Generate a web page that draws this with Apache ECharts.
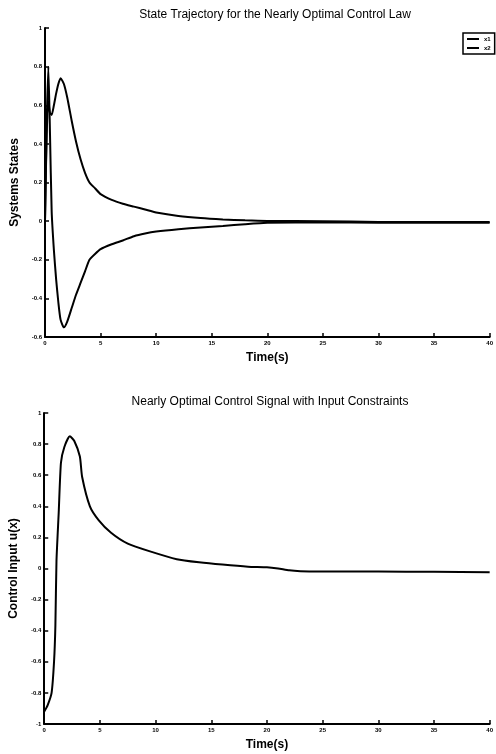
<!DOCTYPE html>
<html>
<head>
<meta charset="utf-8">
<script src="https://cdn.jsdelivr.net/npm/echarts@6/dist/echarts.min.js"></script>
<style>
html,body{margin:0;padding:0;background:#fff;}
#c{width:496px;height:754px;}
</style>
</head>
<body>
<div id="c"></div>
<script>
// ---- Data ----
const stateTime = [0,0.15,0.3,0.45,0.6,0.8,1.0,1.2,1.4,1.7,2.0,2.4,2.8,3.2,3.6,4.0,4.5,5,6,7,8,9,10,12,14,16,18,20,25,30,35,40];
const x1Values = [0,0.45,0.62,0.56,0.55,0.6,0.66,0.71,0.74,0.71,0.64,0.52,0.41,0.32,0.25,0.2,0.17,0.14,0.11,0.09,0.075,0.06,0.045,0.027,0.016,0.009,0.004,0.001,0,-0.004,-0.005,-0.005];
const x2Values = [0,0.5,0.8,0.45,0.05,-0.15,-0.3,-0.42,-0.51,-0.55,-0.52,-0.45,-0.38,-0.32,-0.26,-0.2,-0.17,-0.145,-0.12,-0.1,-0.078,-0.064,-0.054,-0.042,-0.033,-0.025,-0.016,-0.009,-0.006,-0.008,-0.009,-0.008];

const controlTime = [0,0.3,0.66,0.88,1.0,1.1,1.3,1.5,1.8,2.3,2.7,3.2,3.4,4.1,4.9,6.0,7.5,9.5,11.9,13.9,16,18.3,20,21,22,23,25,30,35,40];
const uValues = [-0.92,-0.88,-0.8,-0.6,-0.37,0.05,0.36,0.68,0.78,0.85,0.82,0.72,0.59,0.40,0.31,0.23,0.16,0.11,0.06,0.04,0.025,0.012,0.008,0.0,-0.012,-0.017,-0.019,-0.02,-0.021,-0.024];

const seriesNames = ['x1','x2'];
const titles = ['State Trajectory for the Nearly Optimal Control Law','Nearly Optimal Control Signal with Input Constraints'];
const xAxisName = 'Time(s)';
const yAxisNames = ['Systems States','Control Input u(x)'];

const pair = (t, v) => t.map((ti, i) => [ti, v[i]]);

const FONT = '"Liberation Sans", Arial, sans-serif';
const axisCommon = {
  axisLine: {show: true, onZero: false, lineStyle: {color: '#000', width: 2}},
  axisTick: {show: true, inside: true, length: 4, lineStyle: {color: '#000', width: 1.5}},
  splitLine: {show: false},
  nameTextStyle: {fontFamily: FONT, fontSize: 12, fontWeight: 'bold', color: '#000'},
  axisLabel: {fontFamily: FONT, fontSize: 6, fontWeight: 'bold', color: '#000', margin: 3}
};
const lineStyle = {color: '#000', width: 2};

const chart = echarts.init(document.getElementById('c'), null, {renderer: 'canvas'});
chart.setOption({
  animation: false,
  backgroundColor: '#fff',
  title: [
    {text: titles[0], left: 275, top: 9, textAlign: 'center', padding: 0,
     textStyle: {fontFamily: FONT, fontSize: 12, fontWeight: 'normal', color: '#000'}},
    {text: titles[1], left: 270, top: 396, textAlign: 'center', padding: 0,
     textStyle: {fontFamily: FONT, fontSize: 12, fontWeight: 'normal', color: '#000'}}
  ],
  legend: {
    data: seriesNames, orient: 'vertical', left: 463, top: 33,
    padding: [3, 4, 3, 3], itemGap: 3, itemWidth: 12, itemHeight: 2,
    borderColor: '#000', borderWidth: 1.5,
    textStyle: {fontFamily: FONT, fontSize: 6, fontWeight: 'bold', color: '#000'}
  },
  grid: [
    {left: 45, right: 3, top: 28, height: 309},
    {left: 37, right: 4, top: 413, height: 311}
  ],
  xAxis: [
    Object.assign({}, axisCommon, {type: 'value', gridIndex: 0, min: 0, max: 40, interval: 5,
      name: xAxisName, nameLocation: 'middle', nameGap: 15}),
    Object.assign({}, axisCommon, {type: 'value', gridIndex: 1, min: 0, max: 40, interval: 5,
      name: xAxisName, nameLocation: 'middle', nameGap: 15})
  ],
  yAxis: [
    Object.assign({}, axisCommon, {type: 'value', gridIndex: 0, min: -0.6, max: 1, interval: 0.2,
      name: yAxisNames[0], nameLocation: 'middle', nameGap: 18,
      axisLabel: Object.assign({}, axisCommon.axisLabel, {formatter: v => String(+v.toFixed(1))})}),
    Object.assign({}, axisCommon, {type: 'value', gridIndex: 1, min: -1, max: 1, interval: 0.2,
      name: yAxisNames[1], nameLocation: 'middle', nameGap: 13,
      axisLabel: Object.assign({}, axisCommon.axisLabel, {formatter: v => String(+v.toFixed(1))})})
  ],
  series: [
    {name: seriesNames[0], type: 'line', xAxisIndex: 0, yAxisIndex: 0, data: pair(stateTime, x1Values),
     symbol: 'none', smooth: 0.2, lineStyle: lineStyle, itemStyle: {color: '#000'}},
    {name: seriesNames[1], type: 'line', xAxisIndex: 0, yAxisIndex: 0, data: pair(stateTime, x2Values),
     symbol: 'none', smooth: 0.2, lineStyle: lineStyle, itemStyle: {color: '#000'}},
    {name: 'u', type: 'line', xAxisIndex: 1, yAxisIndex: 1, data: pair(controlTime, uValues),
     symbol: 'none', smooth: 0.2, lineStyle: lineStyle, itemStyle: {color: '#000'}}
  ]
});
</script>
</body>
</html>
